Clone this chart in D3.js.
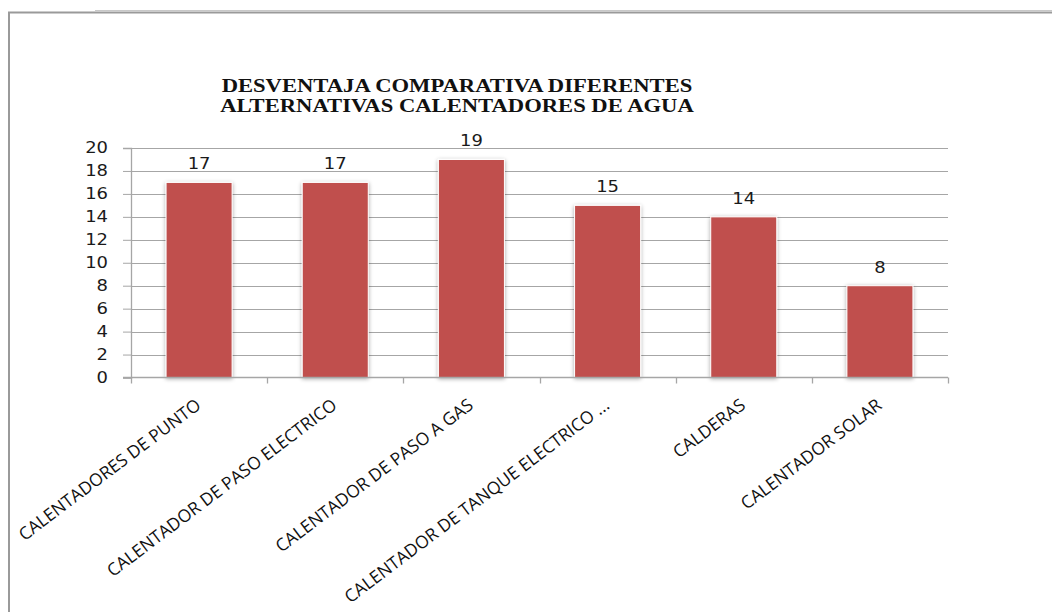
<!DOCTYPE html>
<html>
<head>
<meta charset="utf-8">
<script src="https://cdn.jsdelivr.net/npm/d3@7"></script>
<style>
  html, body { margin: 0; padding: 0; background: #fff; }
  svg { display: block; }
</style>
</head>
<body>
<svg id="chart" width="1052" height="612"></svg>
<script>
// Chart data
const categories = [
  "CALENTADORES DE PUNTO",
  "CALENTADOR DE PASO ELECTRICO",
  "CALENTADOR DE PASO A GAS",
  "CALENTADOR DE TANQUE ELECTRICO ...",
  "CALDERAS",
  "CALENTADOR SOLAR"
];
const values = [17, 17, 19, 15, 14, 8];
const yTicks = [0, 2, 4, 6, 8, 10, 12, 14, 16, 18, 20];
const titleLines = [
  "DESVENTAJA COMPARATIVA DIFERENTES",
  "ALTERNATIVAS CALENTADORES DE AGUA"
];

const svg = d3.select("#chart");
const W = 1052, H = 612;
const plot = { left: 131, right: 948, top: 148, bottom: 377.5 };
const gridColor = "#a6a6a6";
const barColor = "#c0504d";
const wide = 1.16; // horizontal widening applied to the chart's text

// Outer frame of the chart area
svg.append("line").attr("x1", 95).attr("x2", W).attr("y1", 10.5).attr("y2", 10.5)
  .attr("stroke", "#c8c8c8").attr("stroke-width", 1);
svg.append("line").attr("x1", 8).attr("x2", W).attr("y1", 12.5).attr("y2", 12.5)
  .attr("stroke", "#9a9a9a").attr("stroke-width", 2);
svg.append("line").attr("x1", 9).attr("x2", 9).attr("y1", 12).attr("y2", H)
  .attr("stroke", "#9a9a9a").attr("stroke-width", 2);

// Soft shadow around the bars
const defs = svg.append("defs");
const f = defs.append("filter").attr("id", "barShadow")
  .attr("x", "-20%").attr("y", "-10%").attr("width", "140%").attr("height", "125%");
f.append("feGaussianBlur").attr("in", "SourceAlpha").attr("stdDeviation", 2).attr("result", "blur");
f.append("feOffset").attr("in", "blur").attr("dx", 0).attr("dy", 1).attr("result", "off");
f.append("feComponentTransfer").attr("in", "off").attr("result", "shadow")
  .append("feFuncA").attr("type", "linear").attr("slope", 0.35);
const merge = f.append("feMerge");
merge.append("feMergeNode").attr("in", "shadow");
merge.append("feMergeNode").attr("in", "SourceGraphic");

// Scales
const x = d3.scaleBand().domain(categories).range([plot.left, plot.right])
  .paddingInner(0.515).paddingOuter(0.2575);
const y = d3.scaleLinear().domain([0, 20]).range([plot.bottom, plot.top]);

// Gridlines and y axis
const yAxis = d3.axisLeft(y).tickValues(yTicks).tickSize(8).tickFormat(d3.format("d"));
const gy = svg.append("g").attr("transform", `translate(${plot.left},0)`).call(yAxis);
gy.select(".domain").attr("stroke", gridColor).attr("stroke-width", 1.3);
gy.selectAll(".tick line").attr("stroke", gridColor);
gy.selectAll(".tick text")
  .attr("x", null)
  .attr("transform", `translate(-23,0) scale(${wide},1)`)
  .attr("font-family", "'DejaVu Sans', Verdana, sans-serif")
  .attr("font-size", 15.5).attr("fill", "#1a1a1a");

svg.append("g").selectAll("line").data(yTicks.filter(d => d > 0)).join("line")
  .attr("x1", plot.left).attr("x2", plot.right)
  .attr("y1", d => Math.round(y(d)) + 0.5).attr("y2", d => Math.round(y(d)) + 0.5)
  .attr("stroke", gridColor).attr("stroke-width", 1.2);

// Bars
svg.append("g").selectAll("rect").data(values).join("rect")
  .attr("x", (d, i) => x(categories[i]))
  .attr("width", x.bandwidth())
  .attr("y", d => y(d))
  .attr("height", d => y(0) - y(d))
  .attr("fill", barColor)
  .attr("stroke", "#ffffff").attr("stroke-width", 1)
  .attr("filter", "url(#barShadow)");

// Value labels
svg.append("g").selectAll("text").data(values).join("text")
  .attr("transform", (d, i) =>
    `translate(${x(categories[i]) + x.bandwidth() / 2},${y(d) - 13}) scale(${wide},1)`)
  .attr("text-anchor", "middle")
  .attr("font-family", "'DejaVu Sans', Verdana, sans-serif")
  .attr("font-size", 15.5).attr("fill", "#1a1a1a")
  .text(d => d);

// Category axis with boundary ticks
const xAxisLine = svg.append("g");
xAxisLine.append("line").attr("x1", plot.left - 8).attr("x2", plot.right)
  .attr("y1", plot.bottom).attr("y2", plot.bottom)
  .attr("stroke", gridColor).attr("stroke-width", 1.5);
const step = x.step();
const bounds = d3.range(categories.length + 1).map(i => plot.left + i * step);
xAxisLine.selectAll("line.tk").data(bounds).join("line").attr("class", "tk")
  .attr("x1", d => Math.round(d) + 0.5).attr("x2", d => Math.round(d) + 0.5)
  .attr("y1", plot.bottom).attr("y2", plot.bottom + 6)
  .attr("stroke", gridColor).attr("stroke-width", 1.3);

// Rotated category labels
svg.append("g").selectAll("text").data(categories).join("text")
  .attr("transform", d => `translate(${x(d) + x.bandwidth() / 2 + 3},${plot.bottom + 30}) rotate(-37)`)
  .attr("text-anchor", "end")
  .attr("font-family", "'Open Sans', sans-serif")
  .attr("font-size", 17.5).attr("fill", "#111")
  .text(d => d);

// Title
svg.append("g").selectAll("text").data(titleLines).join("text")
  .attr("transform", (d, i) => `translate(457,${92 + i * 20}) scale(${wide},1)`)
  .attr("text-anchor", "middle")
  .attr("font-family", "'Liberation Serif', 'DejaVu Serif', serif")
  .attr("font-weight", "bold")
  .attr("font-size", 19.5).attr("fill", "#111")
  .text(d => d);
</script>
</body>
</html>
